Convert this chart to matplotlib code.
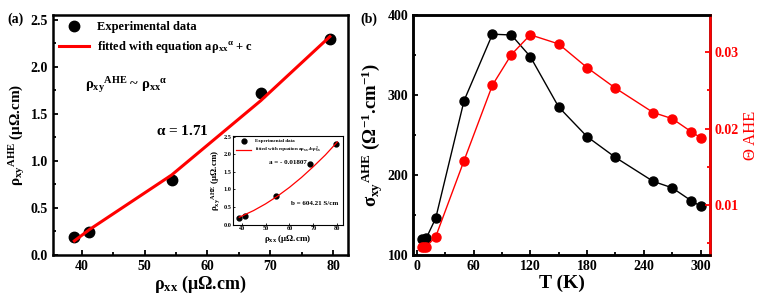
import matplotlib
matplotlib.use('Agg')
import matplotlib.pyplot as plt
from matplotlib.ticker import MultipleLocator

plt.rcParams['font.family'] = ['Liberation Serif', 'DejaVu Serif']
plt.rcParams['font.weight'] = 'bold'
plt.rcParams['axes.labelweight'] = 'bold'
plt.rcParams['mathtext.fontset'] = 'custom'
plt.rcParams['mathtext.rm'] = 'Liberation Serif:bold'
plt.rcParams['mathtext.it'] = 'Liberation Serif:bold'
plt.rcParams['mathtext.bf'] = 'Liberation Serif:bold'
plt.rcParams['mathtext.default'] = 'rm'

# panel (a) data
rho_xx = [38.8, 41.2, 54.3, 68.5, 79.5]
rho_xy = [0.19, 0.24, 0.80, 1.72, 2.30]
fit_x = [38.8, 41.2, 54.3, 68.5, 79.5]
fit_y = [0.15, 0.27, 0.85, 1.64, 2.32]

# inset fit curve
inset_fit_x = [39, 45, 50, 55, 60, 65, 70, 75, 80]
inset_fit_y = [0.21, 0.40, 0.59, 0.81, 1.06, 1.34, 1.65, 1.98, 2.35]

# panel (b) data
T = [5, 10, 20, 50, 80, 100, 120, 150, 180, 210, 250, 270, 290, 300]
sigma_ahe = [120, 121, 146, 293, 376, 375, 348, 285, 248, 222, 192, 184, 168, 161]
T_theta = [5, 8, 10, 20, 50, 80, 100, 120, 150, 180, 210, 250, 270, 290, 300]
theta_ahe = [0.0044, 0.0045, 0.0045, 0.0058, 0.0158, 0.0257, 0.0297, 0.0323, 0.0311,
             0.0280, 0.0253, 0.0221, 0.0213, 0.0196, 0.0188]

fig = plt.figure(figsize=(7.63, 2.98), dpi=100)

# ---- panel (a)
ax1 = fig.add_axes([0.0695, 0.1443, 0.3866, 0.8054])
ax1.plot(rho_xx, rho_xy, 'o', color='black', ms=7.5, label='Experimental data', zorder=3)
ax1.plot(fit_x, fit_y, '-', color='red', lw=2.2,
         label=r'fitted with equation a$\rho_{xx}{}^{\alpha}$ + c', zorder=4)
ax1.set_xlim(35.4, 82.4)
ax1.set_ylim(0, 2.55)
ax1.xaxis.set_major_locator(MultipleLocator(10))
ax1.xaxis.set_minor_locator(MultipleLocator(5))
ax1.yaxis.set_major_locator(MultipleLocator(0.5))
ax1.yaxis.set_minor_locator(MultipleLocator(0.25))
ax1.tick_params(which='both', direction='in', width=1.3, labelsize=10)
ax1.tick_params(which='major', length=3.5)
ax1.tick_params(which='minor', length=2)
for s in ax1.spines.values():
    s.set_linewidth(1.8)
ax1.set_xlabel(r'$\rho_{xx}$ ($\mu\Omega$.cm)', fontsize=13, labelpad=1)
ax1.set_ylabel(r'$\rho_{xy}{}^{AHE}$ ($\mu\Omega$.cm)', fontsize=11, labelpad=3)
ax1.legend(loc='upper left', fontsize=9, frameon=False, handlelength=2.4,
           borderaxespad=0.1, labelspacing=0.5, handletextpad=0.6)
ax1.text(0.11, 0.69, r'$\rho_{xy}{}^{AHE}$ ~ $\rho_{xx}{}^{\alpha}$', transform=ax1.transAxes,
         fontsize=10.5)
ax1.text(0.35, 0.50, r'$\alpha$ = 1.71', transform=ax1.transAxes, fontsize=11)
fig.text(0.01, 0.925, '(a)', fontsize=10)

# ---- inset
axi = fig.add_axes([0.3054, 0.245, 0.1442, 0.2987])
axi.plot(rho_xx, rho_xy, 'o', color='black', ms=3.5, label='Experimental data', zorder=3)
axi.plot(inset_fit_x, inset_fit_y, '-', color='red', lw=0.9,
         label=r'fitted with equation a$\rho_{xx}$+b$\rho^2_{xx}$', zorder=4)
axi.set_xlim(36.4, 82.4)
axi.set_ylim(-0.01, 2.52)
axi.xaxis.set_major_locator(MultipleLocator(10))
axi.yaxis.set_major_locator(MultipleLocator(0.5))
axi.tick_params(direction='in', labelsize=4.5, length=1.5, width=0.6, pad=1)
for s in axi.spines.values():
    s.set_linewidth(0.8)
axi.set_xlabel(r'$\rho_{xx}$ ($\mu\Omega$.cm)', fontsize=6.5, labelpad=1)
axi.set_ylabel(r'$\rho_{xy}{}^{AHE}$ ($\mu\Omega$.cm)', fontsize=6.5, labelpad=1)
axi.legend(loc='upper left', fontsize=3.6, frameon=False, handlelength=3,
           borderaxespad=0.2, labelspacing=0.3)
axi.text(0.33, 0.68, 'a = - 0.01807', transform=axi.transAxes, fontsize=5)
axi.text(0.53, 0.22, 'b = 604.21 S/cm', transform=axi.transAxes, fontsize=5)

# ---- panel (b)
ax2 = fig.add_axes([0.5413, 0.1443, 0.3892, 0.8054])
ax2.plot(T, sigma_ahe, '-o', color='black', ms=6.5, lw=1.0)
ax2.set_xlim(-4, 310)
ax2.set_ylim(100, 400)
ax2.xaxis.set_major_locator(MultipleLocator(60))
ax2.xaxis.set_minor_locator(MultipleLocator(30))
ax2.yaxis.set_major_locator(MultipleLocator(100))
ax2.yaxis.set_minor_locator(MultipleLocator(50))
ax2.tick_params(which='both', direction='in', width=1.3, labelsize=10)
ax2.tick_params(which='major', length=3.5)
ax2.tick_params(which='minor', length=2)
for s in ax2.spines.values():
    s.set_linewidth(1.8)
ax2.set_xlabel('T (K)', fontsize=14, labelpad=1)
ax2.set_ylabel(r'$\sigma_{xy}{}^{AHE}$ ($\Omega^{-1}$.cm$^{-1}$)', fontsize=13.5, labelpad=2)

ax3 = ax2.twinx()
ax3.plot(T_theta, theta_ahe, '-o', color='red', ms=6.5, lw=1.0)
ax3.set_ylim(0.0034, 0.0349)
ax3.yaxis.set_major_locator(MultipleLocator(0.01))
ax3.yaxis.set_minor_locator(MultipleLocator(0.005))
ax3.tick_params(which='both', direction='in', width=1.3, labelsize=10, colors='red')
ax3.tick_params(which='major', length=3.5)
ax3.tick_params(which='minor', length=2)
for s in ax3.spines.values():
    s.set_linewidth(1.8)
ax3.spines['right'].set_color('red')
ax3.set_ylabel('\u0398 AHE', fontsize=12, color='red', fontweight='normal', labelpad=3)
fig.text(0.472, 0.925, '(b)', fontsize=10)

fig.savefig('out.png', dpi=100)
